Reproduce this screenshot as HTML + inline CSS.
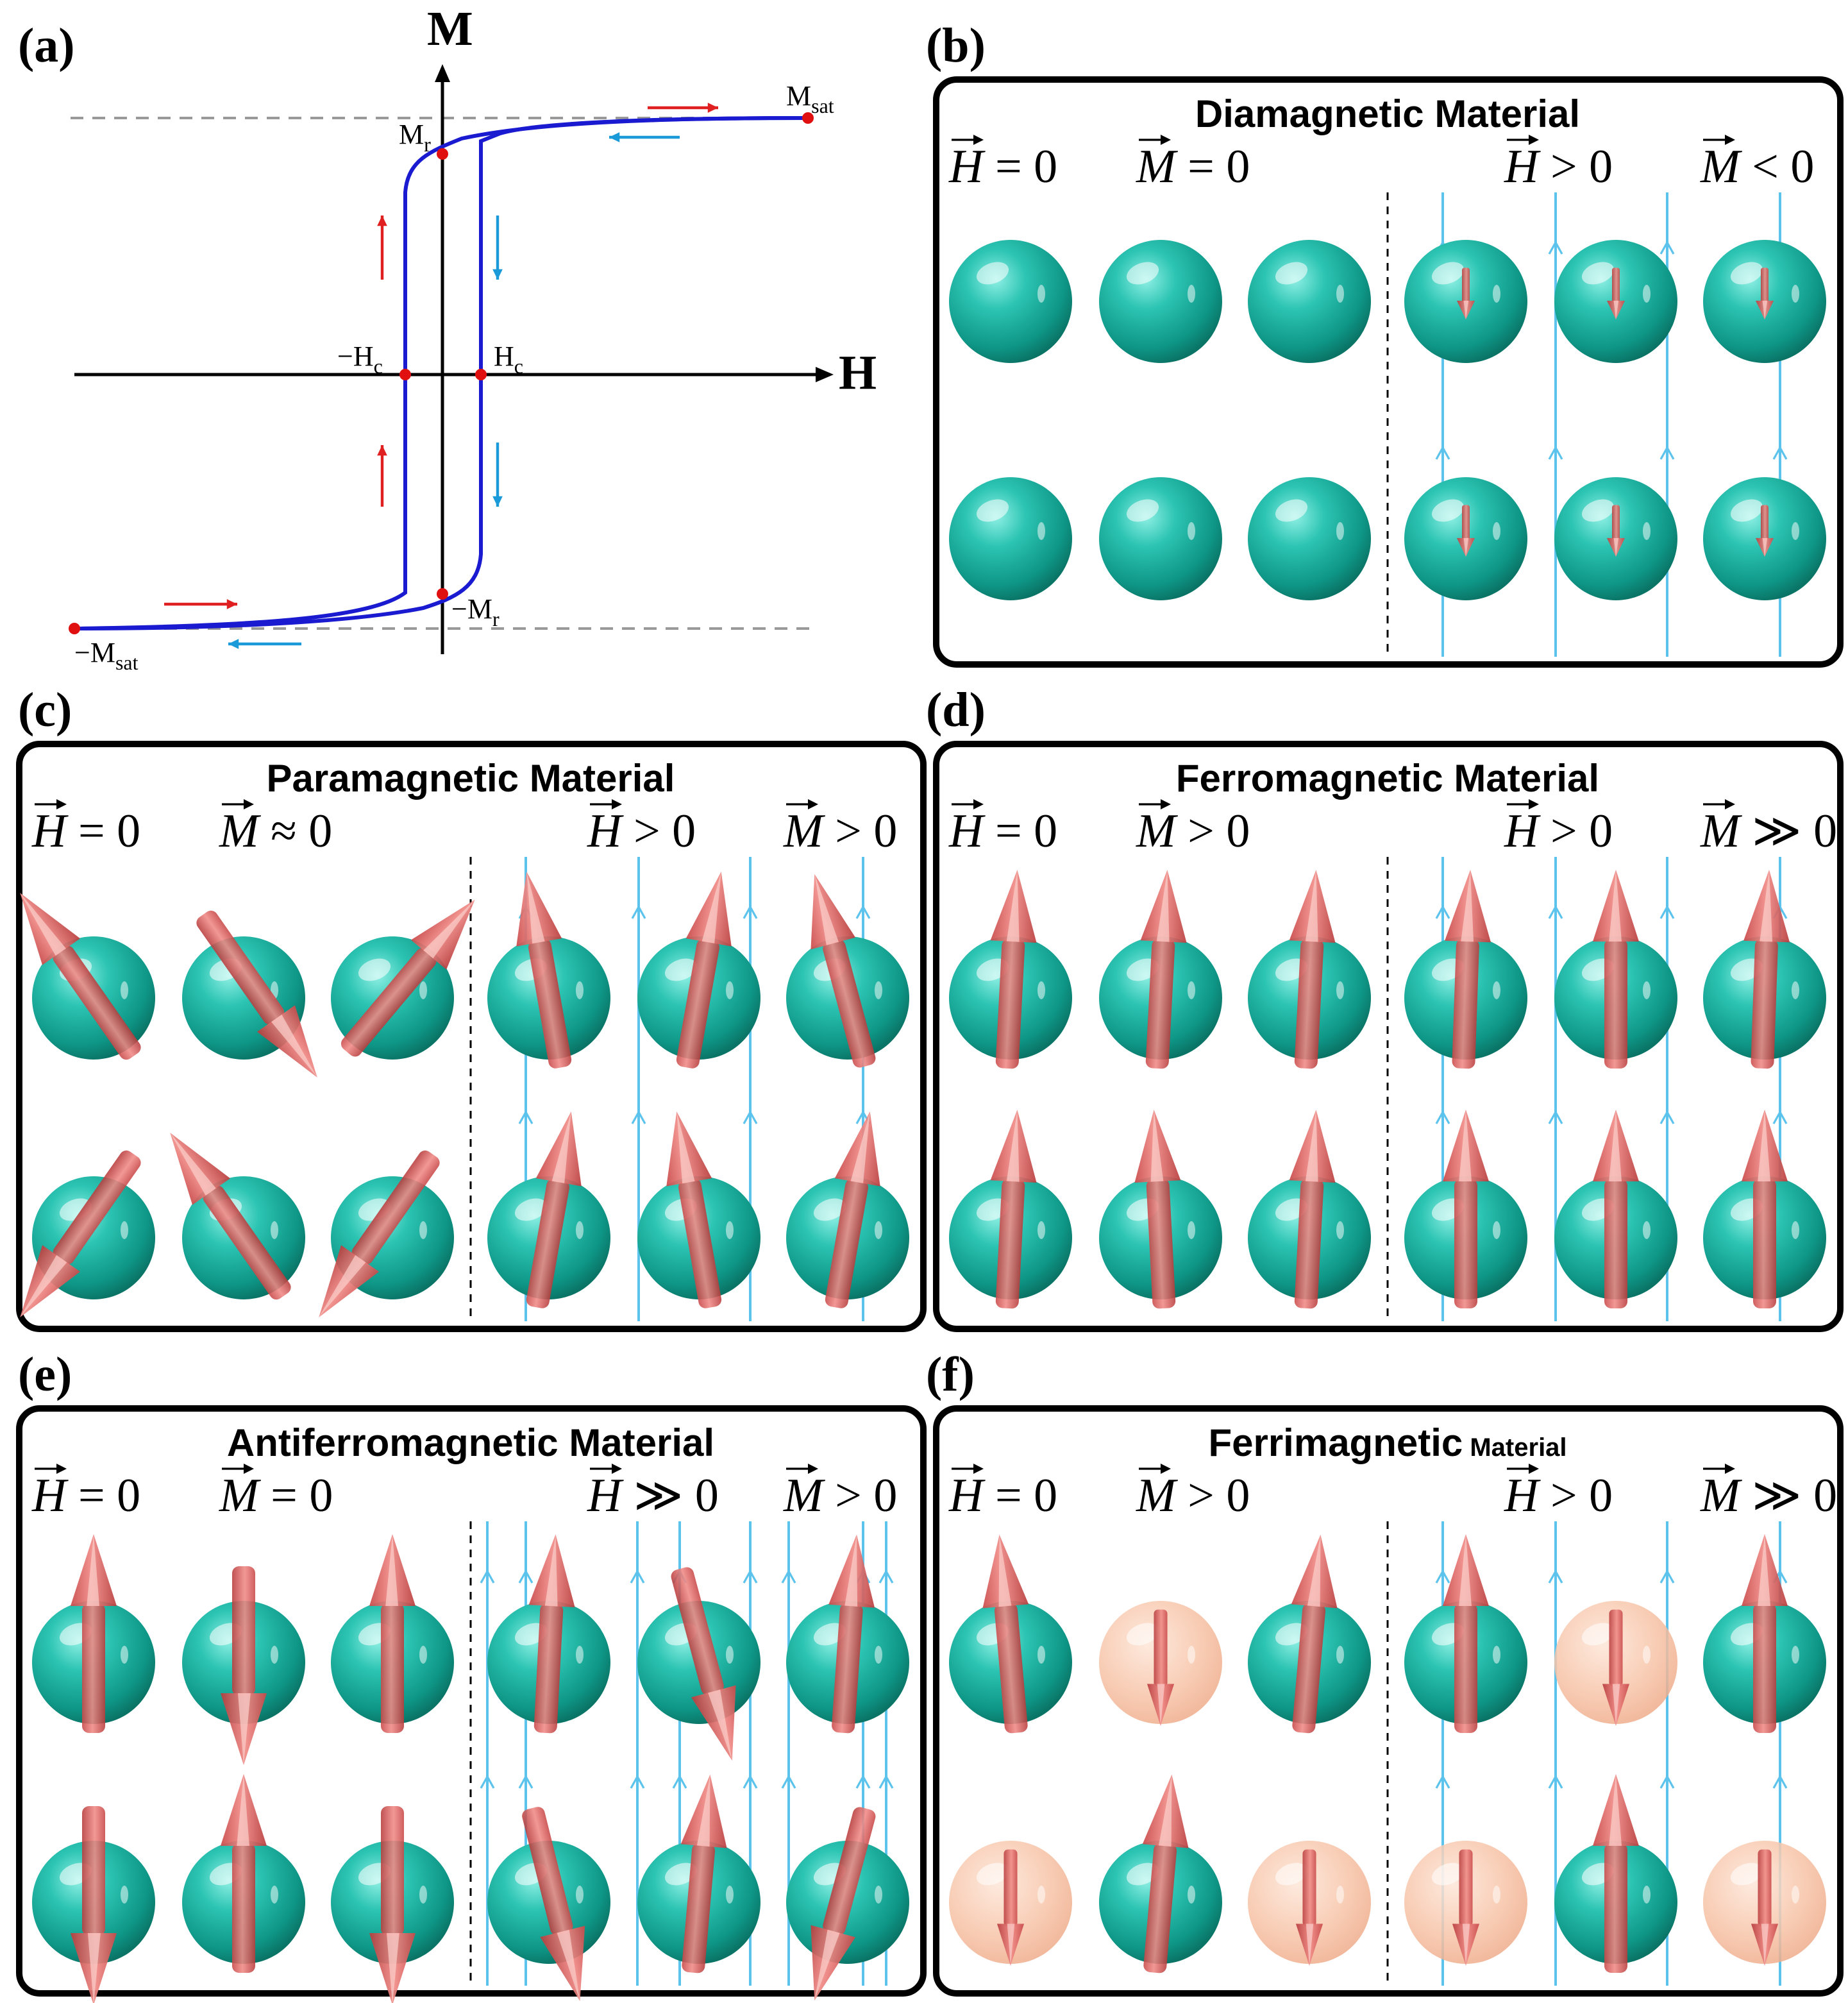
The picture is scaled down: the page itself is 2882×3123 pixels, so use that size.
<!DOCTYPE html>
<html><head><meta charset="utf-8"><style>
html,body{margin:0;padding:0;background:#fff}
svg{display:block}
.pl{font-family:"Liberation Serif",serif;font-weight:bold;font-size:38px}
.tt{font-family:"Liberation Sans",sans-serif;font-weight:bold;font-size:30px;text-anchor:middle}
.mt{font-family:"Liberation Serif",serif;font-size:37px}
.ax{font-family:"Liberation Serif",serif;font-size:22px}
</style></head><body>
<svg id="fig" xmlns="http://www.w3.org/2000/svg" width="2882" height="3123" viewBox="0 0 1441 1561.5">
<defs>
<radialGradient id="teal" cx="0.38" cy="0.32" r="0.7">
<stop offset="0" stop-color="#8ff0e4"/><stop offset="0.35" stop-color="#2cc4b3"/><stop offset="0.8" stop-color="#0e9686"/><stop offset="1" stop-color="#0a7466"/></radialGradient>
<radialGradient id="peach" cx="0.4" cy="0.35" r="0.7">
<stop offset="0" stop-color="#fde6d8"/><stop offset="0.6" stop-color="#f7c4a8"/><stop offset="1" stop-color="#eeaa88"/></radialGradient>
<linearGradient id="shaft" x1="0" x2="1" y1="0" y2="0">
<stop offset="0" stop-color="#c84848"/><stop offset="0.45" stop-color="#f08a86"/><stop offset="1" stop-color="#b83c3c"/></linearGradient>
</defs>
<g id="root"></g>
</svg>
<script>
// ---- data ----
const panelNames = ["b","c","d","e","f"];
const panelTitles = ["Diamagnetic Material","Paramagnetic Material","Ferromagnetic Material","Antiferromagnetic Material","Ferrimagnetic"];
const panelLabels = [["H","= 0","M","= 0","H","> 0","M","< 0"],["H","= 0","M","≈ 0","H","> 0","M","> 0"],["H","= 0","M","> 0","H","> 0","M","≫ 0"],["H","= 0","M","= 0","H","≫ 0","M","> 0"],["H","= 0","M","> 0","H","> 0","M","≫ 0"]];
const anglesB = [null,null,null,180,180,180, null,null,null,180,180,180];
const anglesC = [-35,145,40,-10,10,-15, -145,-35,-145,10,-10,10];
const anglesD = [3,3,3,2,0,2, 3,-3,3,0,0,0];
const anglesE = [0,180,0,3,165,4, 180,0,180,166,5,195];
const anglesF = [-5,180,5,0,180,0, 180,5,180,180,0,180];
const kindsF = [0,1,0,0,1,0, 1,0,1,1,0,1];
const scaleB = 0.2, scaleF = 0.45;

const NS="http://www.w3.org/2000/svg";
const root=document.getElementById('root');
function mk(tag,attrs,parent){const e=document.createElementNS(NS,tag);for(const k in attrs)e.setAttribute(k,attrs[k]);(parent||root).appendChild(e);return e;}

// ---- panel (a) hysteresis ----
const ga=mk('g',{});


let t=mk('text',{x:14,y:48,class:'pl'},ga);t.textContent='(a)';


let d1=mk('line',{x1:55,y1:92,x2:630,y2:92,stroke:'#999','stroke-width':2,'stroke-dasharray':'10,7'},ga);


let d2=mk('line',{x1:60,y1:490,x2:635,y2:490,stroke:'#999','stroke-width':2,'stroke-dasharray':'10,7'},ga);


let hx=mk('line',{x1:58,y1:292,x2:640,y2:292,stroke:'#000','stroke-width':2.5},ga);


mk('path',{d:'M650,292 L636,286 L636,298 Z',fill:'#000'},ga);
let mx=mk('line',{x1:345,y1:510,x2:345,y2:62,stroke:'#000','stroke-width':2.5},ga);


mk('path',{d:'M345,50 L339,64 L351,64 Z',fill:'#000'},ga);
t=mk('text',{x:333,y:35,class:'pl','font-size':30},ga);t.textContent='M';
t=mk('text',{x:654,y:303,class:'pl','font-size':30},ga);t.textContent='H';
let up=mk('path',{d:'M58,490 C200,488 290,482 316,462 L316,150 C318,125 335,118 360,108 C420,95 520,92 630,92',fill:'none',stroke:'#1a1ad0','stroke-width':3},ga);


let dn=mk('path',{d:'M630,92 C520,92 420,95 390,104 L375,110 L375,432 C373,458 355,466 330,474 C270,486 160,490 58,490',fill:'none',stroke:'#1a1ad0','stroke-width':3},ga);


const pts=[[630,92],[58,490],[345,120],[345,463],[316,292],[375,292]];
pts.forEach(p=>{const c=mk('circle',{cx:p[0],cy:p[1],r:4.5,fill:'#e01010'},ga);

});
function sub(x,y,main,s){const e=mk('text',{x:x,y:y,class:'ax'},ga);e.textContent=main;const ts=mk('tspan',{dy:6,'font-size':16},e);ts.textContent=s;return e;}
sub(613,82,'M','sat');sub(311,112,'M','r');sub(263,285,'−H','c');sub(385,285,'H','c');sub(352,482,'−M','r');sub(58,516,'−M','sat');
function harrow(x1,y1,x2,y2,col){const e=mk('line',{x1:x1,y1:y1,x2:x2,y2:y2,stroke:col,'stroke-width':2.2},ga);
const a=Math.atan2(y2-y1,x2-x1),L=9;
mk('path',{d:`M${x2},${y2} L${x2-L*Math.cos(a-0.45)},${y2-L*Math.sin(a-0.45)} L${x2-L*Math.cos(a+0.45)},${y2-L*Math.sin(a+0.45)} Z`,fill:col},ga);

}
const R='#e02020',B='#1a9ad8';
harrow(505,84,560,84,R);harrow(530,107,475,107,B);harrow(298,218,298,168,R);harrow(388,168,388,218,B);
harrow(298,395,298,347,R);harrow(388,345,388,395,B);harrow(128,471,185,471,R);harrow(235,502,178,502,B);

// ---- panels b-f ----
const boxes=[[730,62],[15,580],[730,580],[15,1098],[730,1098]];
const plabelPos=[[722,48],[14,566],[722,566],[14,1084],[722,1084]];
const allAngles=[anglesB,anglesC,anglesD,anglesE,anglesF];
const colRel=[58,175,291,413,530,646];
function sphere(g,cx,cy,kind){
 const grp=mk('g',{},g);
 
 
 mk('circle',{cx:cx,cy:cy,r:48,fill:kind?'url(#peach)':'url(#teal)',opacity:kind?0.85:1},grp);
 mk('ellipse',{cx:cx-14,cy:cy-22,rx:13,ry:8,fill:'#fff',opacity:0.55,transform:`rotate(-20 ${cx-14} ${cy-22})`},grp);
 mk('ellipse',{cx:cx+24,cy:cy-6,rx:3,ry:7,fill:'#fff',opacity:0.5},grp);
}
function arrow(g,cx,cy,ang,s){
 const grp=mk('g',{transform:`translate(${cx},${cy}) rotate(${ang})`},g);
 
 
 const top=-100*s, bot=55*s, hl=56*s, hw=Math.max(18*s,7), sw=Math.max(9*s,3);
 mk('rect',{x:-sw,y:top+hl-2,width:2*sw,height:bot-(top+hl)+2,rx:sw*0.6,fill:'url(#shaft)',opacity:0.88},grp);
 mk('path',{d:`M0,${top} L${-hw},${top+hl} L${hw},${top+hl} Z`,fill:'url(#shaft)',opacity:0.92},grp);
 mk('path',{d:`M0,${top} L${-hw*0.3},${top+hl} L${hw*0.25},${top+hl} Z`,fill:'#fbd0cc',opacity:0.7},grp);
}
function vecLabel(g,x,y,letter,rest){
 const e=mk('text',{x:x,y:y,class:'mt'},g);
 const a=mk('tspan',{'font-style':'italic'},e);a.textContent=letter;
 const b=mk('tspan',{},e);b.textContent=' '+rest;
 
 
 mk('line',{x1:x+2,y1:y-33,x2:x+24,y2:y-33,stroke:'#000','stroke-width':1.6},g);
 mk('path',{d:`M${x+27},${y-33} L${x+19},${y-37} L${x+19},${y-29} Z`,fill:'#000'},g);
}
panelNames.forEach((n,i)=>{
 const [bx,by]=boxes[i];
 const g=mk('g',{});
 
 
 let l=mk('text',{x:plabelPos[i][0],y:plabelPos[i][1],class:'pl'},g);l.textContent='('+n+')';
 
 
 const box=mk('rect',{x:bx,y:by,width:705,height:456,rx:16,fill:'#fff',stroke:'#000','stroke-width':5},g);
 
 
 const tt=mk('text',{x:bx+352,y:by+37,class:'tt'},g);tt.textContent=panelTitles[i];
 if(n==='f'){const s=mk('tspan',{'font-size':20},tt);s.textContent=' Material';}
 
 
 const L=panelLabels[i],lx=[10,156,443,596];
 for(let k=0;k<4;k++)vecLabel(g,bx+lx[k],by+80,L[2*k],L[2*k+1]);
 const dv=mk('line',{x1:bx+352,y1:by+88,x2:bx+352,y2:by+448,stroke:'#000','stroke-width':1.5,'stroke-dasharray':'6,5'},g);
 
 
 const fl = n==='e'?[365,395,482,515,570,600,658,676]:[395,483,570,658];
 const rows = n==='b'?[by+173,by+358]:[by+198,by+385];
 fl.forEach(fx=>{
  const ln=mk('line',{x1:bx+fx,y1:by+88,x2:bx+fx,y2:by+450,stroke:'#5cc3ec','stroke-width':2},g);
  
  
  [by+130,by+290].forEach(ay=>mk('path',{d:`M${bx+fx-5},${ay+6} L${bx+fx},${ay-3} L${bx+fx+5},${ay+6}`,fill:'none',stroke:'#5cc3ec','stroke-width':1.6},g));
 });
 const ang=allAngles[i];
 for(let r=0;r<2;r++)for(let c=0;c<6;c++){
  const idx=r*6+c, cx=bx+colRel[c], cy=rows[r];
  const kind = n==='f'?kindsF[idx]:0;
  sphere(g,cx,cy,kind);
  const a=ang[idx];
  if(a===null)continue;
  let s=1;
  if(n==='b')s=scaleB;
  if(n==='f'&&kind===1)s=scaleF;
  if(s<1){arrow(g,cx,cy+(n==='b'?-12:-20*s),a,s*1.3);}
  else {const down=Math.abs(a)>90; arrow(g,cx,cy+(down?-20:0),a,s);}
 }
});
</script>
</body></html>
